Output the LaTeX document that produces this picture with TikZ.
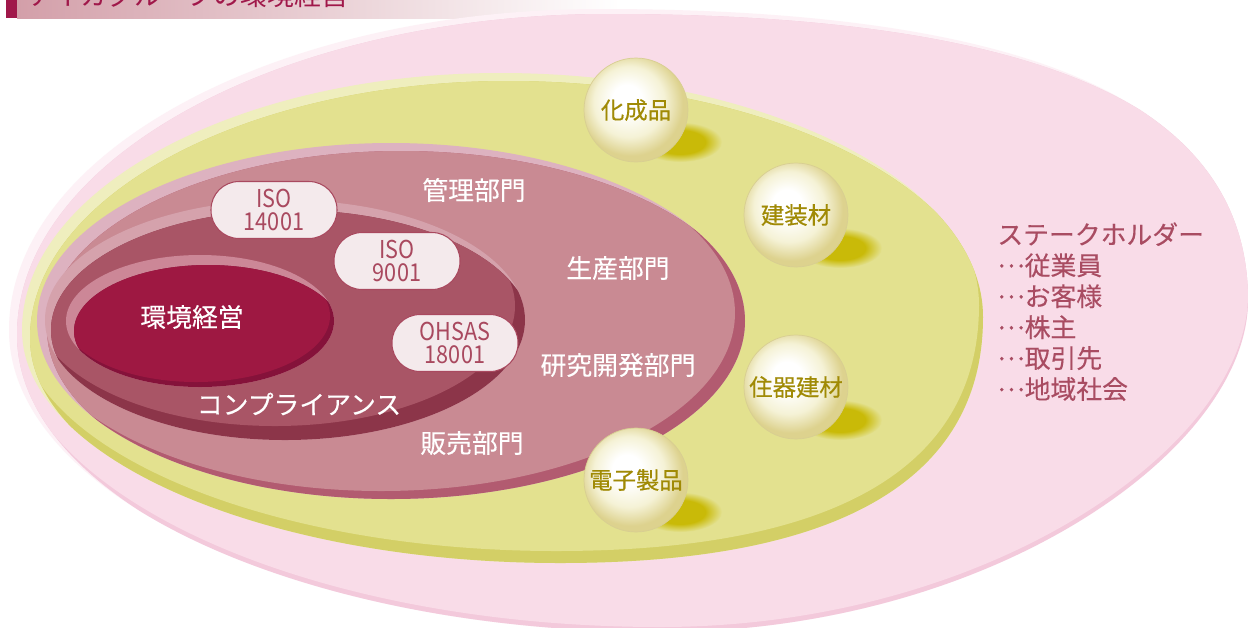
\documentclass[tikz,border=0pt]{standalone}
\usepackage{fontspec}
\usepackage{graphicx}
\setmainfont{Noto Sans CJK JP}
\newfontfamily\jpmed{Noto Sans CJK JP}[FakeBold=0.5]
\newfontfamily\jpsemi{Noto Sans CJK JP}[FakeBold=0.25]
\definecolor{outH}{HTML}{FDF1F6}
\definecolor{outF}{HTML}{F9DCE8}
\definecolor{outD}{HTML}{F3C9DB}
\definecolor{yelH}{HTML}{EFEEBE}
\definecolor{yelF}{HTML}{E3E18F}
\definecolor{yelD}{HTML}{D3CF66}
\definecolor{mauH}{HTML}{DDB2C0}
\definecolor{mauF}{HTML}{C98A93}
\definecolor{mauD}{HTML}{B25B70}
\definecolor{comH}{HTML}{D5A2AC}
\definecolor{comF}{HTML}{A95566}
\definecolor{comD}{HTML}{8C3549}
\definecolor{innH}{HTML}{CC8797}
\definecolor{innF}{HTML}{9E1842}
\definecolor{innD}{HTML}{85123A}
\definecolor{pearlmid}{HTML}{F5F2D6}
\definecolor{pearledge}{HTML}{DDD28E}
\definecolor{pearlrim}{HTML}{D8CE92}
\definecolor{pearltext}{HTML}{A08A05}
\definecolor{shadowc}{HTML}{C9BA08}
\definecolor{pillfill}{HTML}{F4EAEC}
\definecolor{pillline}{HTML}{A9495F}
\definecolor{stake}{HTML}{A94C62}
\definecolor{titlec}{HTML}{A0184A}
\definecolor{barc}{HTML}{D39FA9}
\pgfdeclareradialshading{pearlsh}{\pgfpoint{-5bp}{6bp}}{color(0bp)=(white); color(7bp)=(white); color(17bp)=(pearlmid); color(25bp)=(pearledge); color(50bp)=(pearledge)}
\pgfdeclareradialshading{shadowsh}{\pgfpointorigin}{color(0bp)=(shadowc); color(15bp)=(shadowc); color(25bp)=(yelF); color(50bp)=(yelF)}
\newcommand\mylayer[8]{%
  \begin{scope}
    \clip #1;
    \fill[#2] (-100,-100) rectangle (1400,800);
    \begin{scope}[shift={(#5,#6)}]
      \clip #1;
      \fill[#4] (-100,-100) rectangle (1400,800);
      \begin{scope}[shift={(#7-#5,#8-#6)}]
        \clip #1;
        \fill[#3] (-100,-100) rectangle (1400,800);
      \end{scope}
    \end{scope}
  \end{scope}}
\newcommand\pl[1]{\scalebox{0.88}[1]{#1}}
\newcommand\dd{\raisebox{0.3em}{…}}
\tikzset{
  lbl/.style={text=white, font=\jpsemi\fontsize{14.7}{16}\selectfont, inner sep=0},
  pearl/.style={circle, minimum size=2.08cm, inner sep=0, shade, shading=pearlsh, draw=pearlrim, line width=0.4pt, text=pearltext, font=\jpmed\fontsize{13.3}{15}\selectfont},
  pill/.style={rectangle, rounded corners=0.56cm, minimum width=2.52cm, minimum height=1.14cm, fill=pillfill, draw=pillline, line width=0.6pt, text=pillline, align=center, font=\fontsize{14}{13.6}\selectfont, inner sep=0},
  shadowdot/.style={shade, shading=shadowsh}
}
\begin{document}
\begin{tikzpicture}[x=0.02cm, y=-0.02cm]
\useasboundingbox (0,0) rectangle (1249,627);
\clip (0,0) rectangle (1249,627);
\fill[white] (0,0) rectangle (1249,627);
% title bar
\shade[left color=barc, right color=white] (17,0) rectangle (620,18);
\fill[titlec] (6,0) rectangle (17,18);
\node[anchor=base west, inner sep=0, text=titlec, font=\fontsize{15.3}{16}\selectfont] (title) at (28,5) {アイカグループの環境経営};
% outer stakeholder shape
\mylayer{(9,330) .. controls (9,153) and (275,9) .. (600,9) .. controls (1000,9) and (1248,90) .. (1248,300) .. controls (1248,450) and (990,632) .. (660,632) .. controls (302,632) and (9,496) .. cycle}{outH}{outF}{outD}{8}{5}{0}{-5}
% yellow
\mylayer{(22,330) .. controls (22,189) and (237,73) .. (500,73) .. controls (766,73) and (983,183) .. (983,317) .. controls (983,467) and (860,563) .. (560,563) .. controls (264,563) and (22,458) .. cycle}{yelH}{yelF}{yelD}{8}{8}{-4}{-12}
% shadows of spheres
\path[shadowdot] (680,142) ellipse [x radius=42, y radius=20];
\path[shadowdot] (840,248) ellipse [x radius=42, y radius=20];
\path[shadowdot] (840,420) ellipse [x radius=42, y radius=20];
\path[shadowdot] (680,512) ellipse [x radius=42, y radius=20];
% mauve departments
\mylayer{(391,321) ellipse [x radius=354, y radius=178]}{mauH}{mauF}{mauD}{10}{8}{-10}{-8}
% compliance
\mylayer{(285,320) ellipse [x radius=240, y radius=120]}{comH}{comF}{comD}{6}{10}{-10}{-14}
% inner
\mylayer{(200,321) ellipse [x radius=134, y radius=66]}{innH}{innF}{innD}{8}{10}{-4}{-5}
% labels
\node[lbl] (kanri) at (474,190) {管理部門};
\node[lbl] (seisan) at (618,268) {生産部門};
\node[lbl] (kenkyu) at (618,365) {研究開発部門};
\node[lbl] (hanbai) at (472,443) {販売部門};
\node[lbl] (kankyo) at (192,317) {環境経営};
\node[lbl] (comp) at (299,404) {コンプライアンス};
% certification pills
\node[pill] (iso14) at (274,210) {\pl{ISO}\\\pl{14001}};
\node[pill] (iso9) at (397,261) {\pl{ISO}\\\pl{9001}};
\node[pill] (ohsas) at (455,343) {\pl{OHSAS}\\\pl{18001}};
% spheres
\node[pearl] (kasei) at (636,110) {化成品};
\node[pearl] (kenso) at (796,215) {建装材};
\node[pearl] (juki) at (796,387) {住器建材};
\node[pearl] (denshi) at (636,480) {電子製品};
% stakeholders
\node[anchor=north west, inner sep=0, align=left, text=stake, font=\jpsemi\fontsize{14.7}{17.6}\selectfont] (stakeholders) at (997,222) {ステークホルダー\\\dd 従業員\\\dd お客様\\\dd 株主\\\dd 取引先\\\dd 地域社会};
\end{tikzpicture}
\end{document}
